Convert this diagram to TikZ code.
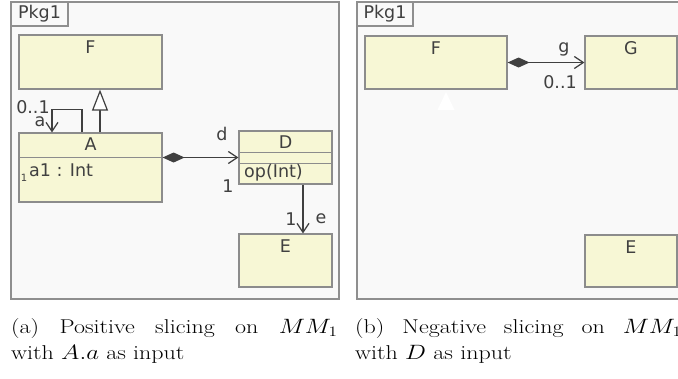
\documentclass[tikz,border=0pt]{standalone}
\usepackage{fontspec}
\usepackage{graphicx}
\usetikzlibrary{arrows.meta}
\newfontfamily\umlfont{DejaVu Sans}
\definecolor{boxfill}{HTML}{F7F7D5}
\definecolor{boxline}{HTML}{8C8C8C}
\definecolor{pkgfill}{HTML}{F9F9F9}
\definecolor{pkgline}{HTML}{8F8F8F}
\definecolor{ink}{HTML}{404040}

\begin{document}
\begin{tikzpicture}[x=1pt,y=-1pt,
  pkg/.style={draw=pkgline,fill=pkgfill,line width=1.4pt},
  tab/.style={pkg,rectangle,minimum height=24pt,inner sep=0pt,text=ink,font=\umlfont\fontsize{17.5}{20}\selectfont},
  cls/.style={rectangle,draw=boxline,fill=boxfill,line width=1.2pt,inner sep=0pt},
  lbl/.style={text=ink,font=\umlfont\fontsize{17.5}{20}\selectfont,inner sep=0pt},
  link/.style={draw=ink,line width=1.2pt},
  comp/.style={link,{Diamond[length=22pt,width=10pt]}-{Straight Barb[length=9pt,width=12pt]}},
  nav/.style={link,-{Straight Barb[length=9pt,width=12pt]}},
  gen/.style={link,-{Triangle[open,length=21pt,width=16pt,fill=white]}},
  caption/.style={anchor=base west,inner sep=0pt}]
\useasboundingbox (0,0) rectangle (678,378);
\clip (0,0) rectangle (678,378);

\path[pkg] (11,2) rectangle (339,299);
\node(pkga)[tab,minimum width=57pt] at (39.5,14){Pkg1};
\node(f1)[cls,minimum width=143pt,minimum height=54pt] at (90.5,62){};
\node(a)[cls,minimum width=143pt,minimum height=69pt] at (90.5,167.5){};
\node(d)[cls,minimum width=93pt,minimum height=53pt] at (285.5,157.5){};
\node(e1)[cls,minimum width=93pt,minimum height=53pt] at (285.5,260.5){};
\path[draw=boxline,line width=1.2pt] ([yshift=-25pt]a.north west) -- ([yshift=-25pt]a.north east);
\path[draw=boxline,line width=1.2pt] ([yshift=-22pt]d.north west) -- ([yshift=-22pt]d.north east);
\path[draw=boxline,line width=1.2pt] ([yshift=-33pt]d.north west) -- ([yshift=-33pt]d.north east);
\node(f1name)[lbl] at ([yshift=-13pt]f1.north){F};
\node(aname)[lbl] at ([yshift=-12pt]a.north){A};
\node(dname)[lbl] at ([yshift=-12pt]d.north){D};
\node(e1name)[lbl] at ([yshift=-13pt]e1.north){E};
\node(attr)[lbl,anchor=west] at (29,170){a1 : Int};
\node(attrmul)[lbl,font=\umlfont\fontsize{10}{12}\selectfont] at (24,178){1};
\node(oper)[lbl,anchor=west] at (244,173){op(Int)};
\path[gen] ([xshift=9.5pt]a.north) -- ([xshift=9.5pt]f1.south);
\path[nav] ([xshift=-8.5pt]a.north) -- ++(0,-23) -| ([xshift=-38.5pt]a.north);
\path[comp] (a.east |- d.west) -- (d.west);
\path[nav] ([xshift=17.5pt]d.south) -- ([xshift=17.5pt]e1.north);
\node(amul)[lbl] at (33,107){0..1};
\node(arole)[lbl] at (40,122){a};
\node(drole)[lbl] at (222,134){d};
\node(dmul)[lbl] at (228,186){1};
\node(emul)[lbl] at (291,219){1};
\node(erole)[lbl] at (321,219){e};

\path[pkg] (357,2) rectangle (700,299);
\node(pkgb)[tab,minimum width=56pt] at (385,14){Pkg1};
\node(f2)[cls,minimum width=142pt,minimum height=53pt] at (436,62.5){};
\node(g)[cls,minimum width=92pt,minimum height=53pt] at (631,62.5){};
\node(e2)[cls,minimum width=92pt,minimum height=52pt] at (631,261){};
\node(f2name)[lbl] at ([yshift=-12.5pt]f2.north){F};
\node(gname)[lbl] at ([yshift=-12.5pt]g.north){G};
\node(e2name)[lbl] at ([yshift=-12.5pt]e2.north){E};
\path[comp] (f2.east) -- (g.west);
\node(grole)[lbl] at (564,49){g};
\node(gmul)[lbl] at (560,82){0..1};
\fill[white] (437.5,110) -- (454.5,110) -- (446,92) -- cycle;

\node(capa)[caption] at (11,333){\scalebox{1.2}[1]{\fontsize{20}{26}\selectfont
  \begin{tabular}[t]{@{}l@{}}\hbox to 272pt{(a)\hfill Positive\hfill slicing\hfill on\hfill $MM_1$}\\
  with $A.a$ as input\end{tabular}}};
\node(capb)[caption] at (355,333){\scalebox{1.2}[1]{\fontsize{20}{26}\selectfont
  \begin{tabular}[t]{@{}l@{}}\hbox to 272pt{(b)\hfill Negative\hfill slicing\hfill on\hfill $MM_1$}\\
  with $D$ as input\end{tabular}}};
\end{tikzpicture}
\end{document}
